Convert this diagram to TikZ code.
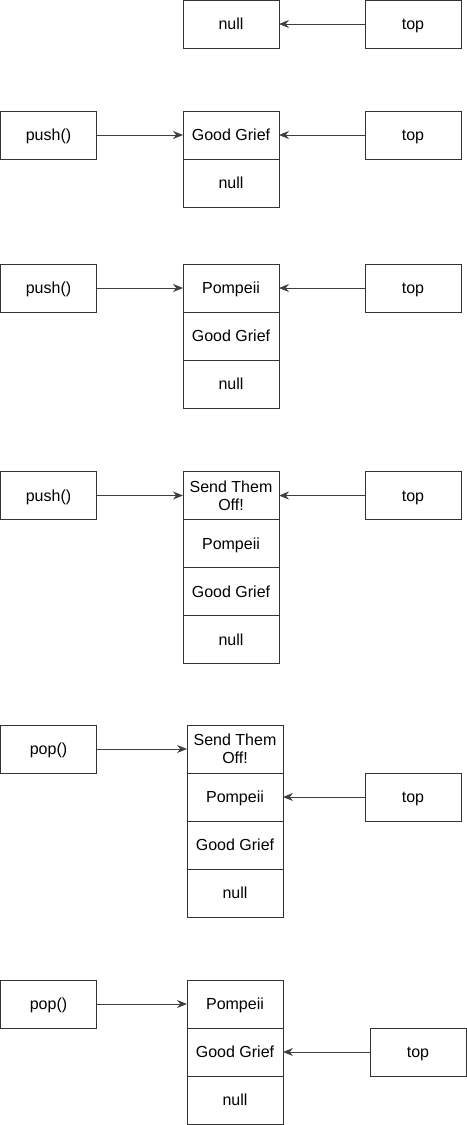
\documentclass[tikz,border=0pt]{standalone}
\usepackage{fontspec}
\setmainfont{Liberation Sans}
\usetikzlibrary{positioning,arrows.meta}

\begin{document}
\begin{tikzpicture}[
                    x=0.75pt,
                    y=-0.75pt,
                    every node/.style={
                        rectangle,
                        draw=black!80,
                        line width=0.75pt,
                        outer sep=0pt,
                        minimum width=72pt,
                        minimum height=36pt,
                        inner sep=1pt,
                        text height=9.8pt,
                        text depth=1.4pt,
                        align=center,
                        font=\fontsize{12}{13.5}\selectfont
                    },
                    twoline/.style={
                        text height={},
                        text depth={}
                    },
                    link/.style={
                        draw=black!75,
                        line width=0.75pt,
                        -{Stealth[length=7.5pt,width=6pt]}
                    }
                ]
                    \useasboundingbox (0,0) rectangle (467,1125);

                    % empty stack
                    \node (null1) at (231,24) {null};
                    \node (top1) at (413,24) {top};

                    % push Good Grief
                    \node (push2) at (48.5,135) {push()};
                    \node (grief2) at (231,135) {Good Grief};
                    \node (null2) [below=0pt of grief2] {null};
                    \node (top2) at (413,135) {top};

                    % push Pompeii
                    \node (push3) at (48.5,288) {push()};
                    \node (pomp3) at (231,288) {Pompeii};
                    \node (grief3) [below=0pt of pomp3] {Good Grief};
                    \node (null3) [below=0pt of grief3] {null};
                    \node (top3) at (413,288) {top};

                    % push Send Them Off!
                    \node (push4) at (48.5,495.5) {push()};
                    \node[twoline] (send4) at (231,495.5) {Send Them\\Off!};
                    \node (pomp4) [below=0pt of send4] {Pompeii};
                    \node (grief4) [below=0pt of pomp4] {Good Grief};
                    \node (null4) [below=0pt of grief4] {null};
                    \node (top4) at (413,495.5) {top};

                    % pop
                    \node (pop5) at (48.5,749) {pop()};
                    \node[twoline] (send5) at (235,749) {Send Them\\Off!};
                    \node (pomp5) [below=0pt of send5] {Pompeii};
                    \node (grief5) [below=0pt of pomp5] {Good Grief};
                    \node (null5) [below=0pt of grief5] {null};
                    \node (top5) at (413,797) {top};

                    % pop again
                    \node (pop6) at (48.5,1004) {pop()};
                    \node (pomp6) at (235,1004) {Pompeii};
                    \node (grief6) [below=0pt of pomp6] {Good Grief};
                    \node (null6) [below=0pt of grief6] {null};
                    \node (top6) at (418,1052) {top};

                    % Edges
                    \draw[link] (top1) -- (null1);
                    \draw[link] (push2) -- (grief2);
                    \draw[link] (top2) -- (grief2);
                    \draw[link] (push3) -- (pomp3);
                    \draw[link] (top3) -- (pomp3);
                    \draw[link] (push4) -- (send4);
                    \draw[link] (top4) -- (send4);
                    \draw[link] (pop5) -- (pop5 -| send5.west);
                    \draw[link] (top5) -- (pomp5);
                    \draw[link] (pop6) -- (pomp6);
                    \draw[link] (top6) -- (grief6);
                \end{tikzpicture}
\end{document}
